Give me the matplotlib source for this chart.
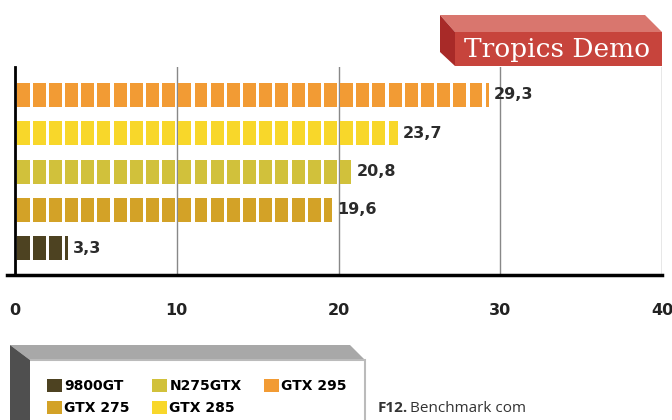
import matplotlib
matplotlib.use('Agg')
from matplotlib import pyplot as plt
from matplotlib.patches import Polygon, Patch
import numpy as np

# data
cards = ['9800GT', 'GTX 275', 'N275GTX', 'GTX 285', 'GTX 295']
scores = [3.3, 19.6, 20.8, 23.7, 29.3]
colors = ['#4d4221', '#d3a227', '#d1c13b', '#f8d72a', '#f29b34']
labels = ['3,3', '19,6', '20,8', '23,7', '29,3']
xticks = [0, 10, 20, 30, 40]

plt.rcParams['font.family'] = ['DejaVu Sans Condensed', 'DejaVu Sans']

W, H = 672, 420
fig = plt.figure(figsize=(6.72, 4.2), dpi=100)

def fx(px):
    return px / W

def fy(py):
    return 1 - py / H

ax = fig.add_axes([fx(15), fy(275), fx(662) - fx(15), fy(67) - fy(275)])

# segmented bars, one block per unit
for i, (v, c) in enumerate(zip(scores, colors)):
    full = int(np.floor(v))
    lefts = list(np.arange(full) + 0.1)
    widths = [0.8] * full
    rest = v - full
    if rest > 0.05:
        lefts.append(full + 0.1)
        widths.append(max(rest - 0.1, 0.12))
    ax.barh([i] * len(lefts), widths, left=lefts, height=0.63, color=c,
            edgecolor='none', zorder=3)
    ax.text(v + 0.3, i, labels[i], va='center', ha='left', fontsize=11.5,
            fontweight='bold', color='#2b2b2b')

ax.set_xlim(0, 40)
ax.set_ylim(-0.7, 4.73)
ax.set_yticks([])
ax.set_xticks(xticks)
ax.set_xticklabels([str(t) for t in xticks], fontsize=11.5, fontweight='bold',
                   color='#222222')
ax.tick_params(axis='x', length=0, pad=20)
ax.grid(axis='x', color='#888888', linewidth=1, zorder=0)
for s in ['top', 'right']:
    ax.spines[s].set_visible(False)
ax.spines['left'].set_linewidth(2)
ax.spines['bottom'].set_linewidth(2.5)
ax.spines['bottom'].set_bounds(-0.5, 40)
ax.spines['bottom'].set_clip_on(False)

# title box
def poly(pts, color):
    fig.patches.append(Polygon([(fx(x), fy(y)) for x, y in pts], closed=True,
                               transform=fig.transFigure, facecolor=color,
                               edgecolor='none', zorder=5))

poly([(440, 15), (645, 15), (662, 32), (455, 32)], '#d9766e')
poly([(440, 15), (455, 32), (455, 66), (440, 52)], '#a82a28')
poly([(455, 32), (662, 32), (662, 66), (455, 66)], '#c7443c')
fig.text(fx(557), fy(49), 'Tropics Demo', ha='center', va='center',
         fontsize=19, color='white',
         family=['DejaVu Serif Condensed', 'DejaVu Serif'], zorder=6)

# legend box
poly([(10, 345), (350, 345), (365, 360), (30, 360)], '#a8a8a8')
poly([(10, 345), (30, 360), (30, 420), (10, 420)], '#4f4f4f')
poly([(30, 360), (365, 360), (365, 420), (30, 420)], '#ffffff')
fig.patches.append(Polygon([(fx(30), fy(360)), (fx(365), fy(360)),
                            (fx(365), fy(420))], closed=False,
                           transform=fig.transFigure, facecolor='none',
                           edgecolor='#bbbbbb', linewidth=1.5, zorder=5))

handles = [Patch(facecolor=c, label=n) for n, c in zip(cards, colors)]
leg = fig.legend(handles=handles, ncol=3, loc='upper left',
                 bbox_to_anchor=(fx(40), fy(372)), frameon=False,
                 prop={'weight': 'bold', 'size': 10}, handlelength=1.1,
                 handleheight=1.1, handletextpad=0.15, columnspacing=1.6,
                 labelspacing=0.55, borderpad=0)
leg.set_zorder(7)

fig.text(fx(378), fy(408), 'F12.', ha='left', va='center', fontsize=11,
         color='#333333', family=['Open Sans'], fontweight='bold')
fig.text(fx(410), fy(408), 'Benchmark com', ha='left', va='center',
         fontsize=11, color='#333333', family=['Open Sans'])

plt.savefig('out.png', dpi=100)
